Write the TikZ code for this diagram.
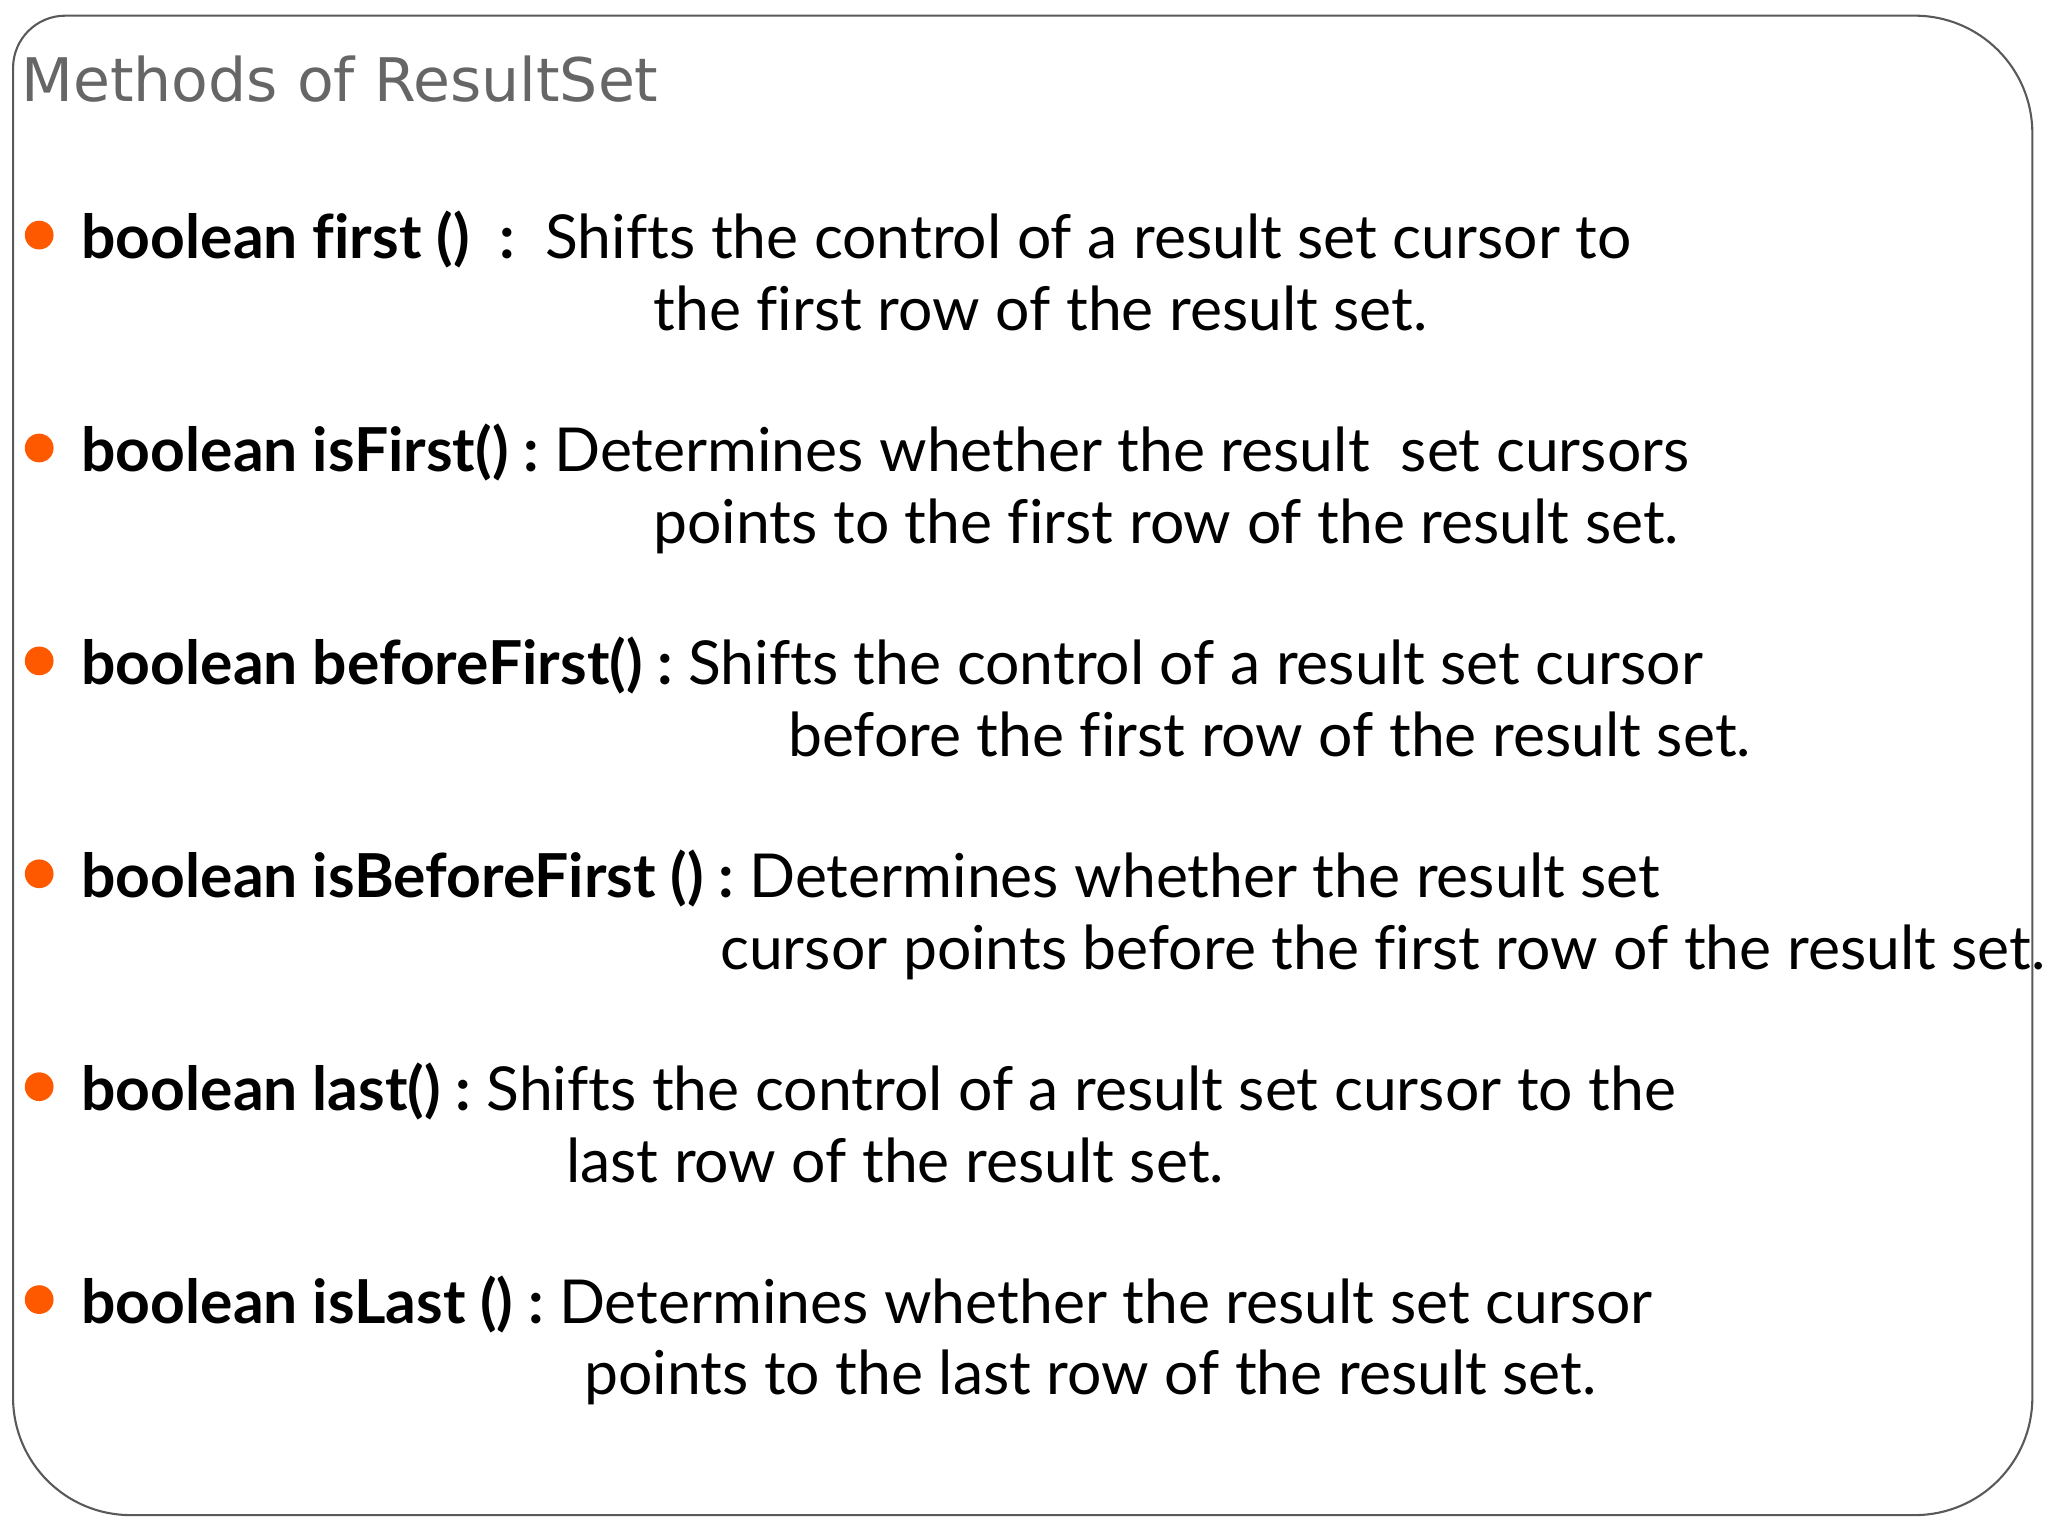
\documentclass[tikz,border=0pt]{standalone}
\usepackage{fontspec}
\setmainfont[Ligatures=NoCommon]{Lato}
\newfontfamily\titlefont{DejaVu Sans}
\begin{document}
\begin{tikzpicture}[x=0.5pt,y=-0.5pt,
  txt/.style={anchor=base west,inner sep=0pt,font=\fontsize{23.2}{27}\selectfont},
  bul/.style={circle,fill=orange!70!red,inner sep=0pt,minimum size=11pt}]
\useasboundingbox (0,0) rectangle (1568,1176);
\draw[line width=0.8pt,gray!70!black] (10,600) [rounded corners=20]-- (10,12) [rounded corners=45]-- (1556,12) -- (1556,1160) -- (10,1160) -- cycle;
\node[anchor=base west,inner sep=0pt,text=gray!80!black,font=\titlefont\fontsize{23}{28}\selectfont] (title) at (16,78) {Methods of ResultSet};
\foreach \i/\y/\xx/\a/\b/\c in {
 1/198/500/{boolean first ()\ \ :}/{\ Shifts the control of a result set cursor to}/{the first row of the result set.},
 2/361/500/{boolean isFirst() :}/{Determines whether the result\ \ set cursors}/{points to the first row of the result set.},
 3/524/603/{boolean beforeFirst() :}/{Shifts the control of a result set cursor}/{before the first row of the result set.},
 4/687/551/{boolean isBeforeFirst () :}/{Determines whether the result set}/{cursor points before the first row of the result set.},
 5/850/433/{boolean last() :}/{Shifts the control of a result set cursor to the}/{last row of the result set.},
 6/1013/447/{boolean isLast () :}/{Determines whether the result set cursor}/{points to the last row of the result set.}}{
  \node[bul] (b\i) at (30,\y-18) {};
  \node[txt] (t\i) at (62,\y) {\textbf{\a}\ \b};
  \node[txt] (u\i) at (\xx,\y+55) {\c};
}
\end{tikzpicture}
\end{document}
